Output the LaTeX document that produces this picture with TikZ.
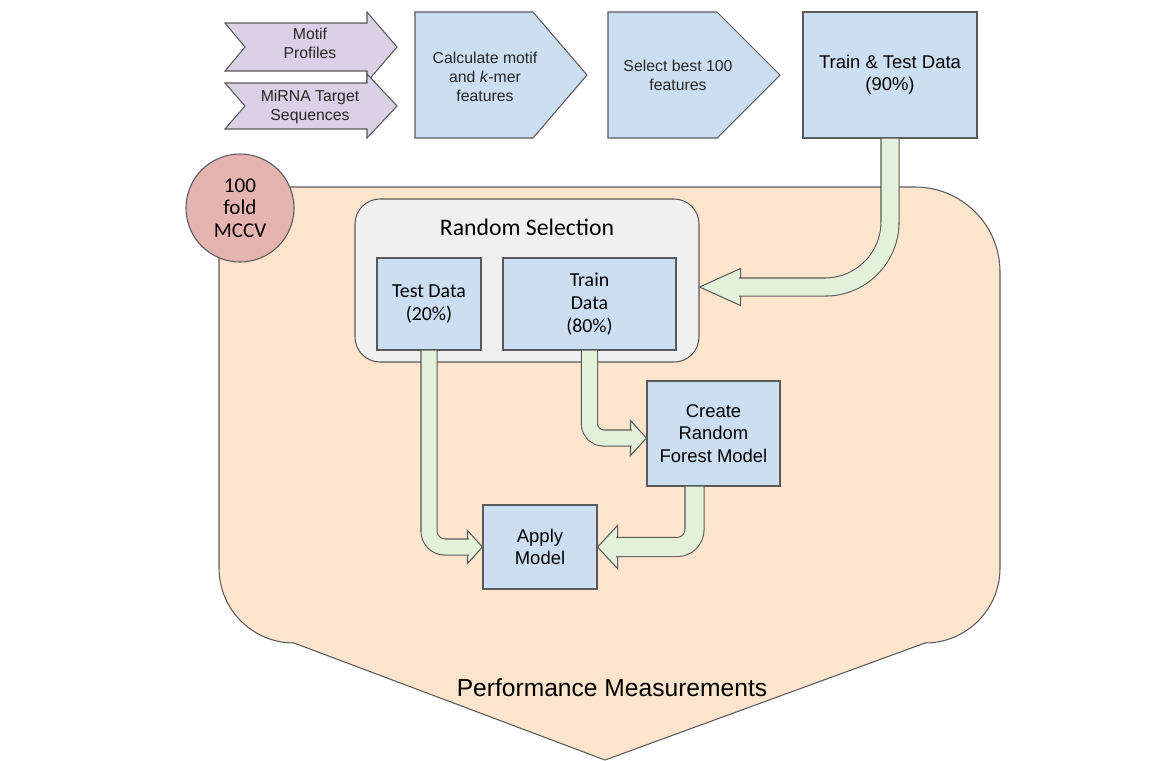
\documentclass[tikz,border=0pt]{standalone}
\usepackage{fontspec}
\setmainfont{Liberation Sans}
\newfontfamily\calibri{Carlito}
\usetikzlibrary{calc}

\definecolor{edgegrey}{HTML}{5A5A5A}
\definecolor{inputpurple}{HTML}{DAD1E6}
\definecolor{stepblue}{HTML}{CCDFF2}
\definecolor{looporange}{HTML}{FCE4CD}
\definecolor{selectgrey}{HTML}{F0F0F0}
\definecolor{flowgreen}{HTML}{E3F0DA}
\definecolor{mccvred}{HTML}{E6B4AE}

\tikzset{
  shapeline/.style={draw=edgegrey, line width=0.6pt},
  steptext/.style={align=center, text=black!85, font=\fontsize{9}{10.8}\selectfont},
  box/.style={shapeline, fill=stepblue, align=center, inner sep=0pt,
    font=\fontsize{10.5}{12.6}\selectfont},
  databox/.style={box, font=\calibri\fontsize{11.3}{13.5}\selectfont},
  flow/.style={draw=edgegrey, line width=0.6pt, double=flowgreen, double distance=0.34cm},
  pics/flowhead/.style 2 args={code={
    \filldraw[shapeline, fill=flowgreen] (0,0) -- (-#1,#2) -- (-#1,-#2) -- cycle;}}
}

\begin{document}
\begin{tikzpicture}

    \useasboundingbox (0,0) rectangle (23.38,-15.2);

    % Two input arrows on the left
    \filldraw[shapeline, fill=inputpurple]
      (4.50,-0.46) -- (7.34,-0.46) -- (7.34,-0.24) -- (7.94,-0.94) -- (7.34,-1.64)
      -- (7.34,-1.42) -- (4.50,-1.42) -- (4.90,-0.94) -- cycle;
    \filldraw[shapeline, fill=inputpurple]
      (4.50,-1.66) -- (7.34,-1.66) -- (7.34,-1.48) -- (7.94,-2.12) -- (7.34,-2.76)
      -- (7.34,-2.58) -- (4.50,-2.58) -- (4.90,-2.12) -- cycle;
    \node[steptext] (motif) at (6.20,-0.86) {Motif\\Profiles};
    \node[steptext] (mirna) at (6.20,-2.14) {MiRNA Target\\Sequences};

    % Feature steps
    \filldraw[shapeline, fill=stepblue]
      (8.30,-0.24) -- (10.66,-0.24) -- (11.74,-1.50) -- (10.66,-2.76) -- (8.30,-2.76) -- cycle;
    \node[steptext] (calc) at (9.70,-1.54) {Calculate motif\\and \textit{k}-mer\\features};
    \filldraw[shapeline, fill=stepblue]
      (12.16,-0.24) -- (14.34,-0.24) -- (15.60,-1.50) -- (14.34,-2.76) -- (12.16,-2.76) -- cycle;
    \node[steptext] (select) at (13.56,-1.50) {Select best 100\\features};

    \node[box, minimum width=3.48cm, minimum height=2.52cm] (ttdata) at (17.80,-1.50)
      {Train \& Test Data\\(90\%)};

    % Cross validation loop
    \filldraw[shapeline, fill=looporange]
      (4.38,-3.74) -- (18.30,-3.74) arc[start angle=90, end angle=0, radius=1.7]
      -- (20.0,-11.36) arc[start angle=0, end angle=-90, radius=1.5]
      -- (12.1,-15.2) -- (5.88,-12.86) arc[start angle=270, end angle=180, radius=1.5]
      -- cycle;

    \node[circle, shapeline, fill=mccvred, minimum size=2.16cm, inner sep=0pt, align=center,
      font=\calibri\fontsize{12}{12.8}\selectfont] (mccv) at (4.80,-4.16) {100\\fold\\MCCV};

    % Random selection group
    \node[shapeline, fill=selectgrey, rounded corners=0.5cm, minimum width=6.88cm, minimum height=3.26cm]
      (rsel) at (10.54,-5.61) {};
    \node[font=\calibri\fontsize{13.5}{16}\selectfont] (rseltitle) at (10.54,-4.54) {Random Selection};

    \node[databox, minimum width=2.08cm, minimum height=1.84cm] (testd) at (8.58,-6.08)
      {Test Data\\(20\%)};
    \node[databox, minimum width=3.46cm, minimum height=1.84cm, font=\calibri\fontsize{11.3}{13}\selectfont]
      (traind) at (11.79,-6.08) {Train\\Data\\(80\%)};

    % Model steps
    \node[box, minimum width=2.66cm, minimum height=2.10cm] (rfmodel) at (14.27,-8.67)
      {Create\\Random\\Forest Model};
    \node[box, minimum width=2.28cm, minimum height=1.68cm] (apply) at (10.80,-10.94)
      {Apply\\Model};

    \node[font=\fontsize{14}{16}\selectfont] (perf) at (12.24,-13.76) {Performance Measurements};

    % Flow arrows
    \pic[rotate=180] at ($(rsel.east)+(0,-0.13)$) {flowhead={0.82}{0.37}};
    \draw[flow, rounded corners=1.3cm] (ttdata.south) |- ($(rsel.east)+(0.79,-0.13)$);

    \pic at (apply.west) {flowhead={0.30}{0.33}};
    \draw[flow, double distance=0.30cm, rounded corners=0.32cm] (testd.south) |- ($(apply.west)+(-0.27,0)$);

    \pic at ($(rfmodel.west)+(0,-0.09)$) {flowhead={0.32}{0.35}};
    \draw[flow, double distance=0.30cm, rounded corners=0.28cm] (traind.south) |- ($(rfmodel.west)+(-0.29,-0.09)$);

    \pic[rotate=180] at (apply.east) {flowhead={0.40}{0.43}};
    \draw[flow, double distance=0.36cm, rounded corners=0.35cm]
      ($(rfmodel.south)+(-0.38,0)$) |- ($(apply.east)+(0.37,0)$);

\end{tikzpicture}
\end{document}
